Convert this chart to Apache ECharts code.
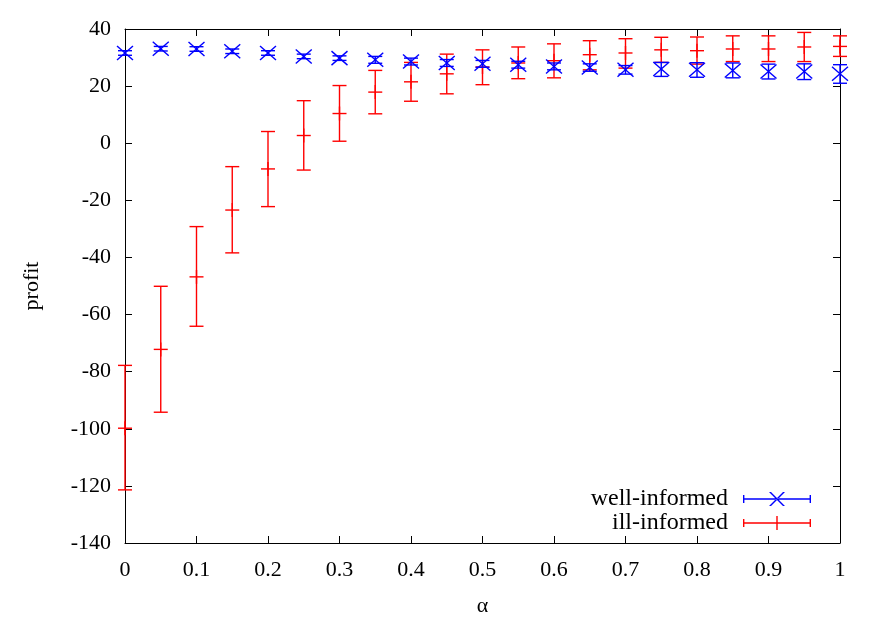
<!DOCTYPE html>
<html>
<head>
<meta charset="utf-8">
<script src="https://cdn.jsdelivr.net/npm/echarts@6/dist/echarts.min.js"></script>
<style>html,body{margin:0;padding:0;background:#fff}#c{width:882px;height:617px}</style>
</head>
<body>
<div id="c"></div>
<script>
// ---- data ----
var alpha = [0,0.05,0.1,0.15,0.2,0.25,0.3,0.35,0.4,0.45,0.5,0.55,0.6,0.65,0.7,0.75,0.8,0.85,0.9,0.95,1];
var wellMean = [31.6,33.1,33.0,32.2,31.6,30.4,29.8,29.2,28.6,28.1,27.8,27.5,26.9,26.5,25.7,26.0,25.7,25.5,25.1,25.1,24.3];
var wellLow  = [30.8,32.3,32.2,31.4,30.8,29.6,29.0,28.0,27.4,26.9,26.6,26.3,25.7,25.2,24.2,23.4,23.1,22.9,22.5,22.3,21.0];
var wellHigh = [32.4,33.9,33.8,33.0,32.4,31.2,30.6,30.4,29.8,29.3,29.0,28.7,28.1,27.8,27.2,28.3,28.2,28.1,27.7,27.8,27.5];
var illMean = [-99.8,-72.2,-46.8,-23.4,-9.0,2.7,10.4,17.9,21.5,24.3,26.7,28.1,28.9,31.0,31.6,32.7,32.4,33.0,33.0,33.7,33.9];
var illLow  = [-121.4,-94.2,-64.1,-38.4,-22.2,-9.4,0.7,10.3,14.7,17.3,20.5,22.6,22.9,25.7,26.3,28.3,27.7,28.6,28.6,28.6,30.4];
var illHigh = [-77.8,-50.1,-29.2,-8.2,4.1,14.9,20.2,25.5,28.3,31.2,32.7,33.7,34.8,35.9,36.6,37.1,37.2,37.6,37.6,38.8,37.6];
var seriesNames = ['well-informed','ill-informed'];
var xTicks = {min:0, max:1, interval:0.1};
var yTicks = {min:-140, max:40, interval:20};

var FONT = "'Liberation Serif','Times New Roman',serif";
var BLUE = '#0000ff', RED = '#ff0000';

function rows(m, lo, hi){ return alpha.map(function(a,i){ return [a, m[i], lo[i], hi[i]]; }); }

function makeRender(color, marker){
  return function(params, api){
    var x = api.value(0);
    var c = api.coord([x, api.value(1)]);
    var lo = api.coord([x, api.value(2)]);
    var hi = api.coord([x, api.value(3)]);
    var cw = 7;
    var st = {stroke: color, lineWidth: 1.4, fill: null};
    var ch = [
      {type:'line', shape:{x1:lo[0], y1:lo[1], x2:hi[0], y2:hi[1]}, style:st},
      {type:'line', shape:{x1:lo[0]-cw, y1:lo[1], x2:lo[0]+cw, y2:lo[1]}, style:st},
      {type:'line', shape:{x1:hi[0]-cw, y1:hi[1], x2:hi[0]+cw, y2:hi[1]}, style:st}
    ];
    if (marker === 'x') {
      ch.push({type:'line', shape:{x1:c[0]-8, y1:c[1]-7, x2:c[0]+8, y2:c[1]+7}, style:st});
      ch.push({type:'line', shape:{x1:c[0]-8, y1:c[1]+7, x2:c[0]+8, y2:c[1]-7}, style:st});
    } else {
      ch.push({type:'line', shape:{x1:c[0]-7, y1:c[1], x2:c[0]+7, y2:c[1]}, style:st});
      ch.push({type:'line', shape:{x1:c[0], y1:c[1]-7, x2:c[0], y2:c[1]+7}, style:st});
    }
    return {type:'group', children: ch};
  };
}

// legend icon paths (68 x 14 box)
var basePath = 'M0 6.3 H68 V7.7 H0 Z M0 3 H1.4 V11 H0 Z M66.6 3 H68 V11 H66.6 Z';
var iconX = 'path://' + basePath + ' M26 0 L28 0 L42 14 L40 14 Z M26 14 L28 14 L42 0 L40 0 Z';
var iconPlus = 'path://' + basePath + ' M33.3 0 H34.7 V14 H33.3 Z M0 0 H0.01 V0.01 H0 Z';

var axisCommon = {
  axisLine: {show:true, onZero:false, lineStyle:{color:'#000', width:1}},
  axisTick: {show:true, inside:true, length:7, lineStyle:{color:'#000', width:1}},
  splitLine: {show:false}
};

var chart = echarts.init(document.getElementById('c'), null, {renderer:'canvas'});
chart.setOption({
  animation: false,
  backgroundColor: '#fff',
  textStyle: {fontFamily: FONT},
  grid: {left:125, right:42, top:29, bottom:74, containLabel:false, outerBoundsMode:'none'},
  legend: {
    orient: 'vertical', align: 'right', right: 71, top: 487, padding: 0,
    itemWidth: 68, itemHeight: 14, itemGap: 0,
    textStyle: {fontFamily: FONT, fontSize: 24, lineHeight: 24, color: '#000', padding:[0,10,0,0]},
    data: [
      {name: seriesNames[0], icon: iconX, itemStyle:{color: BLUE}},
      {name: seriesNames[1], icon: iconPlus, itemStyle:{color: RED}}
    ]
  },
  xAxis: [
    Object.assign({type:'value', position:'bottom', min:xTicks.min, max:xTicks.max, interval:xTicks.interval,
      name:'α', nameLocation:'middle', nameGap:52,
      nameTextStyle:{fontFamily:FONT, fontSize:22, color:'#000'},
      axisLabel:{fontFamily:FONT, fontSize:22, color:'#000', margin:16,
        formatter:function(v){ return String(Number(v.toFixed(1))); }}}, axisCommon),
    Object.assign({type:'value', position:'top', min:xTicks.min, max:xTicks.max, interval:xTicks.interval,
      axisLabel:{show:false}}, axisCommon)
  ],
  yAxis: [
    Object.assign({type:'value', position:'left', min:yTicks.min, max:yTicks.max, interval:yTicks.interval,
      name:'profit', nameLocation:'middle', nameGap:82, nameRotate:90,
      nameTextStyle:{fontFamily:FONT, fontSize:22, color:'#000'},
      axisLabel:{fontFamily:FONT, fontSize:22, color:'#000', margin:14}}, axisCommon),
    Object.assign({type:'value', position:'right', min:yTicks.min, max:yTicks.max, interval:yTicks.interval,
      axisLabel:{show:false}}, axisCommon)
  ],
  series: [
    {name: seriesNames[0], type:'custom', xAxisIndex:0, yAxisIndex:0, clip:false,
     itemStyle:{color:BLUE}, renderItem: makeRender(BLUE,'x'),
     encode:{x:0, y:[1,2,3]}, data: rows(wellMean, wellLow, wellHigh), z:3},
    {name: seriesNames[1], type:'custom', xAxisIndex:0, yAxisIndex:0, clip:false,
     itemStyle:{color:RED}, renderItem: makeRender(RED,'+'),
     encode:{x:0, y:[1,2,3]}, data: rows(illMean, illLow, illHigh), z:2}
  ]
});
</script>
</body>
</html>
